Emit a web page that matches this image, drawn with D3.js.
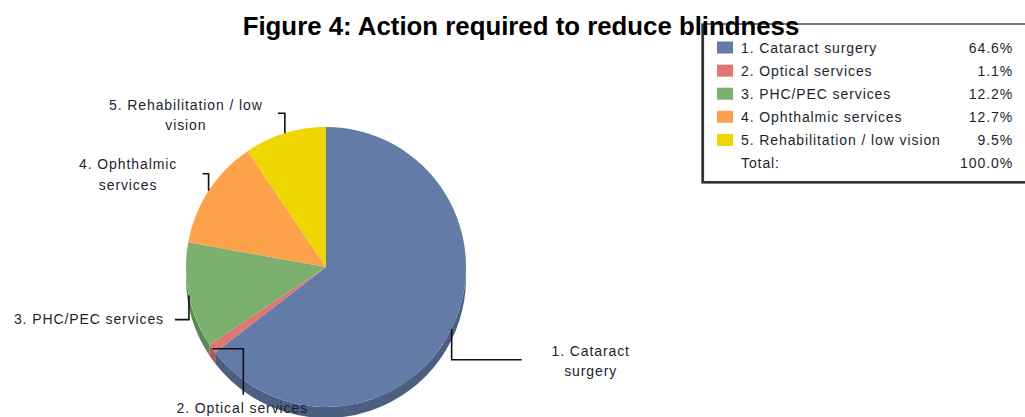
<!DOCTYPE html>
<html>
<head>
<meta charset="utf-8">
<script src="https://cdn.jsdelivr.net/npm/d3@7/dist/d3.min.js"></script>
<style>
  html, body { margin: 0; padding: 0; background: #fff; }
  svg { display: block; }
  text { font-family: "Liberation Sans", Arial, sans-serif; }
  .lbl { letter-spacing: 0.9px; }
</style>
</head>
<body>
<svg id="chart" width="1025" height="417"></svg>
<script>
// Actions required to reduce blindness (share of responses, %)
const categories = [
  "1. Cataract surgery",
  "2. Optical services",
  "3. PHC/PEC services",
  "4. Ophthalmic services",
  "5. Rehabilitation / low vision"
];
const values = [64.6, 1.1, 12.2, 12.7, 9.5];
const totalLabel = "Total:";
const totalValue = 100.0;
// Wrapped labels placed beside the pie
const sliceLabels = [
  ["1. Cataract", "surgery"],
  ["2. Optical services"],
  ["3. PHC/PEC services"],
  ["4. Ophthalmic", "services"],
  ["5. Rehabilitation / low", "vision"]
];
const colors = ["#627ca7", "#e0766f", "#7bb06f", "#fba24a", "#eed600"];
const title = "Figure 4: Action required to reduce blindness";

const svg = d3.select("#chart");
const cx = 326, cy = 267, r = 140, depth = 11;

const pie = d3.pie().sort(null).value(d => d).startAngle(0).endAngle(2 * Math.PI);
const arcs = pie(values);
const arc = d3.arc().innerRadius(0).outerRadius(r);
const pt = (a, rad) => [rad * Math.sin(a), -rad * Math.cos(a)];

const g = svg.append("g").attr("transform", `translate(${cx},${cy})`);

// Side wall of the tilted disc: only the front half (angles PI/2 .. 3PI/2) is visible
arcs.forEach((d, i) => {
  const s = Math.max(d.startAngle, Math.PI / 2);
  const e = Math.min(d.endAngle, 3 * Math.PI / 2);
  if (e <= s) return;
  const [x0, y0] = pt(s, r), [x1, y1] = pt(e, r);
  const large = (e - s) > Math.PI ? 1 : 0;
  const p = `M${x0},${y0} A${r},${r} 0 ${large} 1 ${x1},${y1} L${x1},${y1 + depth} ` +
            `A${r},${r} 0 ${large} 0 ${x0},${y0 + depth} Z`;
  g.append("path").attr("d", p)
    .attr("fill", d3.color(colors[i]).darker(0.75));
});

// Top faces
g.selectAll("path.slice").data(arcs).join("path")
  .attr("class", "slice")
  .attr("d", arc)
  .attr("fill", (d, i) => colors[i]);

// Leader lines and labels, anchored at each slice's mid-angle on the rim
const labelColor = "#1c1f2e";
const fs = 14, lh = 20.5;
const mid = d => (d.startAngle + d.endAngle) / 2;
const lead = [
  // polyline offsets from the anchor, and the label block centre offset
  { path: [[0, 0], [0, 31], [70, 31]], text: [139, 32.5] },
  { path: [[0, 0], [31, 0], [31, 46]], text: [30, 59] },
  { path: [[0, 0], [0, 24], [-14, 24]], text: [-100, 24] },
  { path: [[0, 0], [0, -17], [-6, -17]], text: [-80.5, -16] },
  { path: [[0, 0], [0, -20], [-7, -20]], text: [-99, -18] }
];
arcs.forEach((d, i) => {
  const [ax, ay] = pt(mid(d), r);
  const L = lead[i];
  g.append("polyline")
    .attr("points", L.path.map(([dx, dy]) => `${ax + dx},${ay + dy}`).join(" "))
    .attr("fill", "none").attr("stroke", "#111").attr("stroke-width", 1.6);
  const lines = sliceLabels[i];
  const t = g.append("text")
    .attr("class", "lbl")
    .attr("text-anchor", "middle")
    .attr("font-size", fs).attr("fill", labelColor);
  lines.forEach((ln, k) => {
    t.append("tspan")
      .attr("x", ax + L.text[0])
      .attr("y", ay + L.text[1] + k * lh - (lines.length - 1) * lh / 2 + fs * 0.35)
      .text(ln);
  });
});

// Legend box (runs past the right edge)
const lg = svg.append("g");
const lx = 702, ly = 24, lw = 340, lhgt = 159;
lg.append("rect").attr("x", lx).attr("y", ly).attr("width", lw).attr("height", lhgt)
  .attr("fill", "#fff").attr("stroke", "#222").attr("stroke-width", 1.2);
lg.append("polyline")
  .attr("points", `${lx + 1},${ly} ${lx + 1},${ly + lhgt - 1} ${lx + lw},${ly + lhgt - 1}`)
  .attr("fill", "none").attr("stroke", "#333").attr("stroke-width", 2.2);

const rowY = d3.scalePoint().domain(d3.range(categories.length + 1)).range([47.5, 163]);
const fmt = d3.format(".1f");
categories.forEach((c, i) => {
  const y = rowY(i);
  lg.append("rect").attr("x", 717).attr("y", y - 6).attr("width", 16).attr("height", 12)
    .attr("fill", colors[i]);
  lg.append("text").attr("class", "lbl").attr("x", 741).attr("y", y + 5).attr("font-size", fs)
    .attr("fill", labelColor).text(c);
  lg.append("text").attr("class", "lbl").attr("x", 1013).attr("y", y + 5).attr("font-size", fs)
    .attr("text-anchor", "end").attr("fill", labelColor).text(fmt(values[i]) + "%");
});
const ty = rowY(categories.length);
lg.append("text").attr("class", "lbl").attr("x", 741).attr("y", ty + 5).attr("font-size", fs)
  .attr("fill", labelColor).text(totalLabel);
lg.append("text").attr("class", "lbl").attr("x", 1013).attr("y", ty + 5).attr("font-size", fs)
  .attr("text-anchor", "end").attr("fill", labelColor).text(fmt(totalValue) + "%");

// Title, drawn over the legend frame
const tt = svg.append("text")
  .attr("x", 521).attr("y", 35)
  .attr("text-anchor", "middle")
  .attr("font-weight", "bold")
  .attr("font-size", 22)
  .attr("fill", "#000")
  .text(title);
// fit the title to its set width
const w = tt.node().getComputedTextLength();
tt.attr("font-size", 22 * 557 / w);
</script>
</body>
</html>
